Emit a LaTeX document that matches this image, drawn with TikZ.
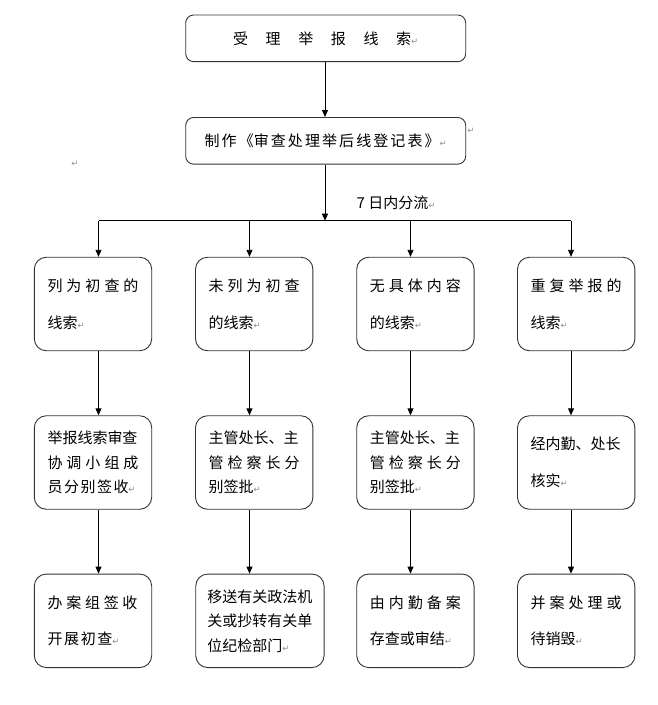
\documentclass[tikz,border=0pt]{standalone}
\usepackage{fontspec}
\newfontfamily\cjk{Noto Sans CJK SC}
\newfontfamily\dvs{DejaVu Sans}
\usetikzlibrary{arrows.meta}
\newcommand\rmk{{\dvs\fontsize{8.5pt}{8.5pt}\selectfont\textcolor{black!45}{↵}}}
\newcommand\spr[2]{\makebox[#1][s]{#2}}
\begin{document}
\begin{tikzpicture}[x=1pt,y=-1pt,
  box/.style={draw=black!80, line width=0.9pt, rounded corners=12pt,
    minimum width=117.4pt, minimum height=93.5pt, inner sep=0pt,
    text width=91pt, align=left, font=\cjk\fontsize{15pt}{36.7pt}\selectfont},
  three/.style={font=\cjk\fontsize{15pt}{24.5pt}\selectfont},
  topbox/.style={draw=black!80, line width=0.9pt, rounded corners=8pt,
    minimum width=280pt, minimum height=46.7pt, inner sep=0pt,
    font=\cjk\fontsize{15pt}{18pt}\selectfont},
  arr/.style={-{Triangle[length=7pt,width=6pt]}, line width=0.9pt},
  conn/.style={line width=0.9pt},
  retmark/.style={inner sep=0pt}]
\useasboundingbox (0,0) rectangle (658,705);

\node[topbox] (t1) at (325.7,38.3) {\spr{178pt}{受\hfill 理\hfill 举\hfill 报\hfill 线\hfill 索}\rmk};
\node[topbox] (t2) at (325.7,140.8) {\spr{235pt}{制\hfill 作\hfill 《审\hfill 查\hfill 处\hfill 理\hfill 举\hfill 后\hfill 线\hfill 登\hfill 记\hfill 表\hfill 》}\rmk};
\node[retmark] (m1) at (75,164) {\rmk};
\node[retmark] (m2) at (471,131) {\rmk};
\node[inner sep=0pt, font=\cjk\fontsize{15pt}{18pt}\selectfont] (lbl) at (396,202.7) {7 日内分流\rmk};

\node[box] (a1) at (93,304) {\spr{91pt}{列\hfill 为\hfill 初\hfill 查\hfill 的}\\线索\rmk};
\node[box] (a2) at (254.2,304) {\spr{91pt}{未\hfill 列\hfill 为\hfill 初\hfill 查}\\的线索\rmk};
\node[box] (a3) at (415.4,304) {\spr{91pt}{无\hfill 具\hfill 体\hfill 内\hfill 容}\\的线索\rmk};
\node[box] (a4) at (576.2,304) {\spr{91pt}{重\hfill 复\hfill 举\hfill 报\hfill 的}\\线索\rmk};

\node[box,three] (b1) at (93,462.5) {举报线索审查\\\spr{91pt}{协\hfill 调\hfill 小\hfill 组\hfill 成}\\\spr{81pt}{员\hfill 分\hfill 别\hfill 签\hfill 收}\rmk};
\node[box,three] (b2) at (254.2,462.5) {主管处长、主\\\spr{91pt}{管\hfill 检\hfill 察\hfill 长\hfill 分}\\别签批\rmk};
\node[box,three] (b3) at (415.4,462.5) {主管处长、主\\\spr{91pt}{管\hfill 检\hfill 察\hfill 长\hfill 分}\\别签批\rmk};
\node[box] (b4) at (576.2,462.5) {经内勤、处长\\核实\rmk};

\node[box] (d1) at (93,620.8) {\spr{90pt}{办\hfill 案\hfill 组\hfill 签\hfill 收}\\\spr{65pt}{开\hfill 展\hfill 初\hfill 查}\rmk};
\node[box,three,minimum width=128.3pt,text width=105pt] (d2) at (259.9,620.8) {移送有关政法机\\关或抄转有关单\\位纪检部门\rmk};
\node[box] (d3) at (415.4,620.8) {\spr{91pt}{由\hfill 内\hfill 勤\hfill 备\hfill 案}\\存查或审结\rmk};
\node[box] (d4) at (576.2,620.8) {\spr{91pt}{并\hfill 案\hfill 处\hfill 理\hfill 或}\\待销毁\rmk};

\coordinate (split) at (325,220.7);
\coordinate (c1) at (98.5,220.7);
\coordinate (c2) at (249.5,220.7);
\coordinate (c3) at (410.5,220.7);
\coordinate (c4) at (571,220.7);

\draw[arr] (t1.south -| split) -- (t2.north -| split);
\draw[arr] (t2.south -| split) -- (split);
\draw[conn] (c1) -- (c4);
\foreach \i in {1,2,3,4}{
  \draw[arr] (c\i) -- (a\i.north -| c\i);
  \draw[arr] (a\i.south -| c\i) -- (b\i.north -| c\i);
  \draw[arr] (b\i.south -| c\i) -- (d\i.north -| c\i);
}
\end{tikzpicture}
\end{document}
